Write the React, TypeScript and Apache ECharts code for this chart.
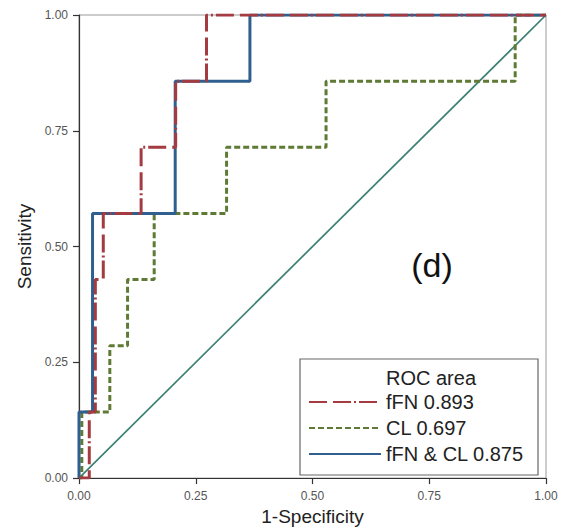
import React, { useEffect, useRef } from "react";
import * as echarts from "echarts";

const seriesNames = ["fFN 0.893", "CL 0.697", "fFN & CL 0.875"];
const tickLabels = ["0.00", "0.25", "0.50", "0.75", "1.00"];

// fFN (red)
const fprFFN = [0, 0.022, 0.022, 0.035, 0.035, 0.052, 0.052, 0.133, 0.133, 0.207, 0.207, 0.273, 0.273, 1];
const tprFFN = [0, 0, 0.1429, 0.1429, 0.4286, 0.4286, 0.5714, 0.5714, 0.7143, 0.7143, 0.8571, 0.8571, 1, 1];
// CL (green)
const fprCL = [0, 0.006, 0.006, 0.066, 0.066, 0.104, 0.104, 0.161, 0.161, 0.316, 0.316, 0.529, 0.529, 0.934, 0.934, 1];
const tprCL = [0, 0, 0.1429, 0.1429, 0.2857, 0.2857, 0.4286, 0.4286, 0.5714, 0.5714, 0.7143, 0.7143, 0.8571, 0.8571, 1, 1];
// fFN & CL (blue)
const fprBoth = [0, 0, 0.029, 0.029, 0.206, 0.206, 0.366, 0.366, 1];
const tprBoth = [0, 0.1429, 0.1429, 0.5714, 0.5714, 0.8571, 0.8571, 1, 1];
// reference diagonal
const fprRef = [0, 1];
const tprRef = [0, 1];

const zip = (xs: number[], ys: number[]) => xs.map((x, i) => [x, ys[i]]);

const FONT = "Liberation Sans, Arial, sans-serif";

export default function App() {
  const ref = useRef<HTMLDivElement>(null);
  useEffect(() => {
    if (!ref.current) return;
    const chart = echarts.init(ref.current, undefined, { renderer: "svg" });
    const axisCommon = {
      type: "value" as const,
      min: 0,
      max: 1,
      interval: 0.25,
      splitLine: { show: false },
      axisLine: { show: true, lineStyle: { color: "#333", width: 1.2 } },
      axisTick: { show: true, inside: false, length: 6, lineStyle: { color: "#333", width: 1.2 } },
    };
    chart.setOption({
      animation: false,
      backgroundColor: "#fff",
      textStyle: { fontFamily: FONT },
      grid: {
        left: 79,
        right: 16,
        top: 15,
        bottom: 48,
        show: true,
        borderColor: "#999",
        borderWidth: 1,
        backgroundColor: "transparent",
      },
      xAxis: {
        ...axisCommon,
        name: "1-Specificity",
        nameLocation: "middle",
        nameGap: 23,
        nameTextStyle: { fontSize: 19, color: "#222", fontFamily: FONT },
        axisLabel: {
          margin: 12,
          fontSize: 12,
          color: "#555",
          fontFamily: FONT,
          formatter: (v: number) => tickLabels[Math.round(v * 4)],
        },
      },
      yAxis: {
        ...axisCommon,
        name: "Sensitivity",
        nameLocation: "middle",
        nameGap: 38,
        nameTextStyle: { fontSize: 19, color: "#222", fontFamily: FONT },
        axisLabel: {
          margin: 11,
          fontSize: 12,
          color: "#555",
          fontFamily: FONT,
          formatter: (v: number) => tickLabels[Math.round(v * 4)],
        },
      },
      legend: {
        orient: "vertical",
        left: 308,
        top: 392,
        padding: 0,
        itemWidth: 72,
        itemHeight: 14,
        itemGap: 6,
        z: 30,
        data: seriesNames,
        itemStyle: { opacity: 0 },
        textStyle: { fontSize: 20, color: "#222", fontFamily: FONT },
      },
      graphic: [
        {
          type: "rect",
          shape: { x: 300, y: 359, width: 238, height: 116 },
          style: { fill: "#fff", stroke: "#666", lineWidth: 1.2 },
          z: 1,
        },
        {
          type: "text",
          x: 386,
          y: 378,
          style: { text: "ROC area", fill: "#222", font: "20px " + FONT, verticalAlign: "middle" },
          z: 11,
        },
        {
          type: "text",
          x: 432,
          y: 265,
          style: { text: "(d)", font: "34px " + FONT, fill: "#111", align: "center", verticalAlign: "middle" },
          z: 11,
        },
      ],
      series: [
        {
          type: "line",
          name: "ref",
          data: zip(fprRef, tprRef),
          symbol: "none",
          lineStyle: { color: "#3c8074", width: 1.7 },
          z: 2,
          silent: true,
        },
        {
          type: "line",
          name: seriesNames[1],
          data: zip(fprCL, tprCL),
          symbol: "none",
          color: "#5f7a35",
          lineStyle: { color: "#5f7a35", width: 3, type: [6, 3] },
          z: 3,
        },
        {
          type: "line",
          name: seriesNames[2],
          data: zip(fprBoth, tprBoth),
          symbol: "none",
          color: "#2f5f8f",
          lineStyle: { color: "#2f5f8f", width: 3 },
          z: 4,
        },
        {
          type: "line",
          name: seriesNames[0],
          data: zip(fprFFN, tprFFN),
          symbol: "none",
          color: "#a33b40",
          lineStyle: { color: "#a33b40", width: 3, type: [18, 6, 18, 3, 2, 3] },
          z: 5,
        },
      ],
    });
    return () => chart.dispose();
  }, []);
  return (
    <div
      ref={ref}
      style={{ position: "fixed", left: 0, top: 0, width: 562, height: 531, background: "#fff" }}
    />
  );
}
